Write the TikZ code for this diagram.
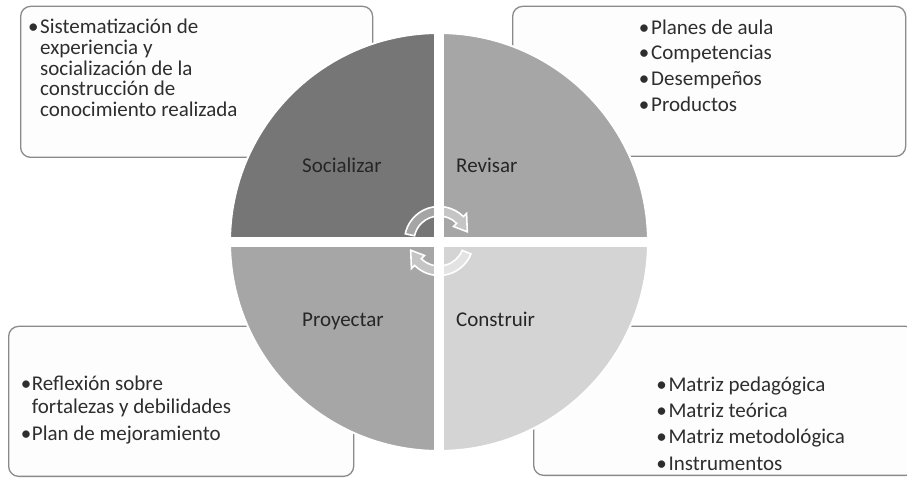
\documentclass[tikz,border=0pt]{standalone}
\usepackage{fontspec}
\setmainfont{Carlito}
\definecolor{qsoc}{HTML}{767676}
\definecolor{qrev}{HTML}{A6A6A6}
\definecolor{qpro}{HTML}{A6A6A6}
\definecolor{qcon}{HTML}{D4D4D4}
\definecolor{boxgray}{HTML}{8A8A8A}
\definecolor{boxfill}{HTML}{FDFDFD}
\definecolor{txtgray}{HTML}{2E2E2E}
\definecolor{lblgray}{HTML}{262626}
\begin{document}
\begin{tikzpicture}[x=1pt,y=1pt,
  box/.style={draw=boxgray, line width=1.3pt, rounded corners=10pt, fill=boxfill, inner sep=0pt},
  txt/.style={inner sep=0pt, text=txtgray, font=\fontsize{21}{25}\selectfont},
  lbl/.style={inner sep=0pt, text=lblgray, font=\fontsize{21}{25}\selectfont},
  cyc/.style={fill=white, fill opacity=0.35, draw=white, draw opacity=1, line width=1.6pt}]

\clip (0,0) rectangle (907,479);
\fill[white] (0,0) rectangle (907,479);

% boxes
\node[box, anchor=south west, minimum width=352pt, minimum height=151pt] (tl) at (20,321) {};
\node[box, anchor=south west, minimum width=393pt, minimum height=150pt] (tr) at (512,322) {};
\node[box, anchor=south west, minimum width=345pt, minimum height=150pt] (bl) at (8,2) {};
\node[box, anchor=south west, minimum width=382pt, minimum height=149pt] (br) at (533,3) {};

% circle quadrants
\coordinate (c) at (439,237);
\fill[qsoc] (c) -- ++(90:209) arc[start angle=90, end angle=180, radius=209] -- cycle;
\fill[qrev] (c) -- ++(0:209) arc[start angle=0, end angle=90, radius=209] -- cycle;
\fill[qpro] (c) -- ++(180:209) arc[start angle=180, end angle=270, radius=209] -- cycle;
\fill[qcon] (c) -- ++(270:209) arc[start angle=270, end angle=360, radius=209] -- cycle;
\begin{scope}
  \clip (c) circle[radius=209];
  \fill[white] (434,20) rectangle (444,460);
  \fill[white] (220,232) rectangle (660,242);
\end{scope}
\draw[white, line width=2pt] (c) circle[radius=209];

% cycle arrows
\begin{scope}[shift={(439,238)}]
  \path[cyc] (168:34.5) arc[start angle=168, end angle=45, radius=34.5] -- (45:39) -- (18:29.75) -- (45:20.5) -- (45:25) arc[start angle=45, end angle=168, radius=25] -- cycle;
  \path[cyc] (338:34.5) arc[start angle=338, end angle=225, radius=34.5] -- (225:39) -- (198:29.75) -- (225:20.5) -- (225:25) arc[start angle=225, end angle=338, radius=25] -- cycle;
\end{scope}

% quadrant labels
\node[lbl, anchor=base west] (soc) at (302,306) {Socializar};
\node[lbl, anchor=base west] (rev) at (456,306) {Revisar};
\node[lbl, anchor=base west] (pro) at (302,152) {Proyectar};
\node[lbl, anchor=base west] (con) at (456,152) {Construir};

% top-left box text
\node[txt, anchor=base] (tlb1) at (33.3,445.7) {•};
\node[txt, anchor=base west] (tl1) at (40,445.7) {Sistematización de};
\node[txt, anchor=base west] (tl2) at (40,424.5) {experiencia y};
\node[txt, anchor=base west] (tl3) at (40,403.7) {socialización de la};
\node[txt, anchor=base west] (tl4) at (40,383.2) {construcción de};
\node[txt, anchor=base west] (tl5) at (40,362.3) {conocimiento realizada};

% top-right box text
\node[txt, anchor=base] (trb1) at (644,444.7) {•};
\node[txt, anchor=base west] (tr1) at (651,444.7) {Planes de aula};
\node[txt, anchor=base] (trb2) at (644,419) {•};
\node[txt, anchor=base west] (tr2) at (651,419) {Competencias};
\node[txt, anchor=base] (trb3) at (644,393.3) {•};
\node[txt, anchor=base west] (tr3) at (651,393.3) {Desempeños};
\node[txt, anchor=base] (trb4) at (644,367.3) {•};
\node[txt, anchor=base west] (tr4) at (651,367.3) {Productos};

% bottom-left box text
\node[txt, anchor=base] (blb1) at (26,88.3) {•};
\node[txt, anchor=base west] (bl1) at (31.7,88.3) {Reflexión sobre};
\node[txt, anchor=base west] (bl2) at (31.7,65.7) {fortalezas y debilidades};
\node[txt, anchor=base] (blb2) at (26,38.3) {•};
\node[txt, anchor=base west] (bl3) at (31.7,38.3) {Plan de mejoramiento};

% bottom-right box text
\node[txt, anchor=base] (brb1) at (661.5,87.3) {•};
\node[txt, anchor=base west] (br1) at (668.3,87.3) {Matriz pedagógica};
\node[txt, anchor=base] (brb2) at (661.5,61.7) {•};
\node[txt, anchor=base west] (br2) at (668.3,61.7) {Matriz teórica};
\node[txt, anchor=base] (brb3) at (661.5,35.7) {•};
\node[txt, anchor=base west] (br3) at (668.3,35.7) {Matriz metodológica};
\node[txt, anchor=base] (brb4) at (661.5,9) {•};
\node[txt, anchor=base west] (br4) at (668.3,9) {Instrumentos};
\end{tikzpicture}
\end{document}
